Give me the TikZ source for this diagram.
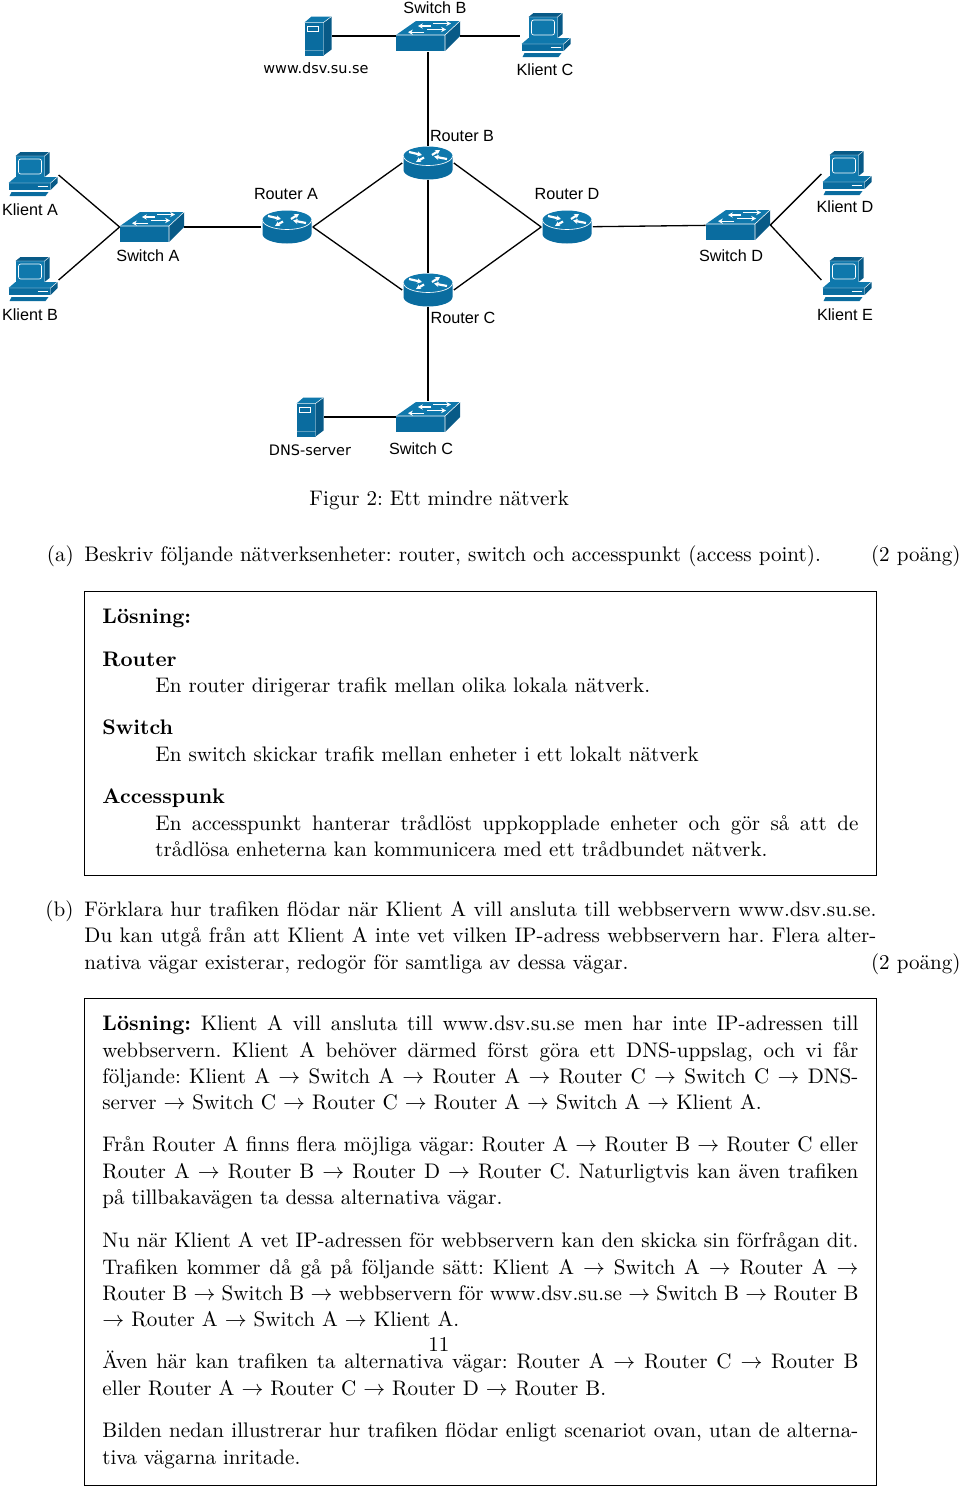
\documentclass[tikz,border=0pt]{standalone}
\usepackage{fontspec}
\usepackage{amsmath, amssymb}
\usepackage{tikz}
\usetikzlibrary{arrows.meta, positioning, calc}
\newfontfamily\labelfont{Liberation Sans}
\newfontfamily\hostfont{DejaVu Sans}
\definecolor{netblue}{HTML}{0A6C9F}
\definecolor{nettop}{HTML}{0F78AC}
\definecolor{netdark}{HTML}{085A87}
\tolerance=9999
\frenchspacing
\renewcommand{\normalsize}{\fontsize{9.62}{12}\selectfont}

\tikzset{
	switchicon/.pic={
		\begin{scope}[shift={(-32,-15)}]
			\fill[netblue] (0,14) rectangle (49,30);
			\fill[nettop] (0,14) -- (20,0) -- (64,0) -- (49,14) -- cycle;
			\fill[netdark] (49,14) -- (64,0) -- (64,15) -- (49,30) -- cycle;
			\draw[white, line width=0.25pt] (0,14) -- (49,14) -- (64,0) (49,14) -- (49,30);
			\draw[tip] (37,2.5) -- (55,2.5);
			\draw[tip] (35,5) -- (22,5);
			\draw[tip] (31,8.5) -- (50,8.5);
			\draw[tip] (28,11.2) -- (12,11.2);
		\end{scope}
	},
	routericon/.pic={
		\fill[netblue] (-24.5,-7) -- (-24.5,7) arc[start angle=180, end angle=0, x radius=24.5, y radius=9.5] -- (24.5,-7) -- cycle;
		\fill[nettop] (0,-7) ellipse[x radius=24.5, y radius=9.5];
		\draw[white, line width=0.3pt] (-24.5,-7) arc[start angle=180, end angle=0, x radius=24.5, y radius=9.5];
		\draw[tip, line width=1pt] (-19,-11) -- (-6,-8);
		\draw[tip, line width=1pt] (19,-4) -- (6,-6.5);
		\draw[tip, line width=1pt] (4,-8) -- (12,-13);
		\draw[tip, line width=1pt] (-4,-5.5) -- (-12,-1);
	},
	pcicon/.pic={
		\begin{scope}[shift={(-24.5,-23)}]
			\fill[netdark] (7,4) -- (12,0) -- (41,0) -- (41,21) -- (36,25) -- cycle;
			\fill[nettop] (7,4) rectangle (36,25);
			\draw[white, line width=0.3pt, rounded corners=1pt] (10,7) rectangle (33,22);
			\draw[white, line width=0.2pt] (7,4) -- (36,4) -- (41,0) (36,4) -- (36,25);
			\fill[nettop] (0,31) -- (7,25) -- (49,25) -- (42,31) -- cycle;
			\fill[netblue] (0,31) rectangle (42,38);
			\fill[netdark] (42,31) -- (49,25) -- (49,31) -- (42,38) -- cycle;
			\draw[white, line width=0.2pt] (0,31) -- (42,31) -- (49,25) (42,31) -- (42,38);
			\draw[white, line width=0.4pt] (29,34) -- (39,34);
			\fill[netblue] (3,40) -- (40,40) -- (37,44) -- (1,44) -- cycle;
		\end{scope}
	},
	servericon/.pic={
		\begin{scope}[shift={(-13.5,-19.5)}]
			\fill[netblue] (0,6) rectangle (19,39);
			\fill[nettop] (0,6) -- (7,0) -- (27,0) -- (19,6) -- cycle;
			\fill[netdark] (19,6) -- (27,0) -- (27,33) -- (19,39) -- cycle;
			\draw[white, line width=0.2pt] (0,6) -- (19,6) -- (27,0) (19,6) -- (19,39) (0,34) -- (19,34);
			\draw[white, line width=0.3pt] (3,10) rectangle (14,15);
		\end{scope}
	}
}

\begin{document}
\normalsize
\begin{tikzpicture}[
		x=0.4566pt, y=-0.4566pt,
		tip/.style={white, line width=0.5pt, -{Stealth[length=2.2pt, width=2.4pt]}},
		link/.style={draw, black, line width=0.6pt},
		swnode/.style={inner sep=0, minimum width=29.2pt, minimum height=14pt},
		rtnode/.style={inner sep=0, minimum width=23.2pt, minimum height=15pt},
		pcnode/.style={inner sep=0, minimum width=23pt, minimum height=20pt},
		srvnode/.style={inner sep=0, minimum width=12.6pt, minimum height=18pt},
		netlabel/.style={inner sep=0, font=\labelfont\fontsize{7.4}{9}\selectfont},
		hostlabel/.style={inner sep=0, font=\hostfont\fontsize{6.6}{8}\selectfont},
		line/.style={inner sep=0, anchor=base west},
		para/.style={inner sep=0, anchor=north west, align=justify, execute at begin node=\strut},
		frame/.style={draw, line width=0.4pt, inner sep=0, anchor=north west, minimum width=361.6pt}
		]
		\useasboundingbox (0,0) rectangle (960,1488);

		% Devices
		\path (428,36) node[swnode] (swb) {} pic {switchicon};
		\path (318,36) node[srvnode] (web) {} pic {servericon};
		\path (546,36) node[pcnode] (klc) {} pic {pcicon};
		\path (428,163) node[rtnode] (rtb) {} pic {routericon};
		\path (428,290) node[rtnode] (rtc) {} pic {routericon};
		\path (287,227) node[rtnode] (rta) {} pic {routericon};
		\path (567,227) node[rtnode] (rtd) {} pic {routericon};
		\path (152,227) node[swnode] (swa) {} pic {switchicon};
		\path (738,225) node[swnode] (swd) {} pic {switchicon};
		\path (33,175) node[pcnode] (kla) {} pic {pcicon};
		\path (33,280) node[pcnode] (klb) {} pic {pcicon};
		\path (847,174) node[pcnode] (kld) {} pic {pcicon};
		\path (847,280) node[pcnode] (kle) {} pic {pcicon};
		\path (428,417) node[swnode] (swc) {} pic {switchicon};
		\path (310,417) node[srvnode] (dns) {} pic {servericon};

		% Device labels
		\node[netlabel] (lswb) at (435,8) {Switch B};
		\node[hostlabel] (lweb) at (316,68) {www.dsv.su.se};
		\node[netlabel] (lklc) at (545,70) {Klient C};
		\node[netlabel] (lrtb) at (462,136) {Router B};
		\node[netlabel] (lrta) at (286,194) {Router A};
		\node[netlabel] (lrtd) at (567,194) {Router D};
		\node[netlabel] (lkla) at (30,210) {Klient A};
		\node[netlabel] (lklb) at (30,315) {Klient B};
		\node[netlabel] (lswa) at (148,256) {Switch A};
		\node[netlabel] (lswd) at (731,256) {Switch D};
		\node[netlabel] (lkld) at (845,207) {Klient D};
		\node[netlabel] (lkle) at (845,315) {Klient E};
		\node[netlabel] (lrtc) at (463,318) {Router C};
		\node[hostlabel] (ldns) at (310,450) {DNS-server};
		\node[netlabel] (lswc) at (421,449) {Switch C};

		% Links
		\draw[link] (web) -- (swb);
		\draw[link] (swb) -- (klc);
		\draw[link] (swb) -- (rtb);
		\draw[link] (rtb) -- (rtc);
		\draw[link] (rtc) -- (swc);
		\draw[link] (dns) -- (swc);
		\draw[link] (kla.east) -- (swa.west);
		\draw[link] (klb.east) -- (swa.west);
		\draw[link] (swa) -- (rta);
		\draw[link] (rta.east) -- (rtb.west);
		\draw[link] (rta.east) -- (rtc.west);
		\draw[link] (rtb.east) -- (rtd.west);
		\draw[link] (rtc.east) -- (rtd.west);
		\draw[link] (rtd) -- (swd);
		\draw[link] (swd.east) -- (kld.west);
		\draw[link] (swd.east) -- (kle.west);

		% Caption and question a
		\node[line] (caption) at (309,505) {Figur 2: Ett mindre nätverk};
		\node[line] (qamark) at (46.5,561) {(a)};
		\node[line] (qa) at (84,561) {Beskriv följande nätverksenheter: router, switch och accesspunkt (access point).};
		\node[line, anchor=base east] (qapts) at (961,561) {(2 poäng)};

		% First answer
		\node[frame, minimum height=129.7pt] (boxa) at (84,591) {};
		\node[line, font=\bfseries] (sola) at (102,623) {Lösning:};
		\node[line, font=\bfseries] (trouter) at (102,666) {Router};
		\node[line] (drouter) at (155,692) {En router dirigerar trafik mellan olika lokala nätverk.};
		\node[line, font=\bfseries] (tswitch) at (102,734.5) {Switch};
		\node[line] (dswitch) at (155,761) {En switch skickar trafik mellan enheter i ett lokalt nätverk};
		\node[line, font=\bfseries] (tap) at (102,803.5) {Accesspunk};
		\node[para, text width=321pt] (dap) at (155,811.6) {En accesspunkt hanterar trådlöst uppkopplade enheter och gör så att de\linebreak trådlösa enheterna kan kommunicera med ett trådbundet nätverk.};

		% Question b
		\node[line] (qbmark) at (45,916) {(b)};
		\node[para, text width=361.6pt] (qb) at (84,897.6) {Förklara hur trafiken flödar när Klient A vill ansluta till webbservern www.dsv.su.se.\linebreak Du kan utgå från att Klient A inte vet vilken IP-adress webbservern har. Flera alter-\linebreak nativa vägar existerar, redogör för samtliga av dessa vägar.};
		\node[line, anchor=base east] (qbpts) at (961,969) {(2 poäng)};

		% Second answer
		\node[frame, minimum height=222.4pt] (boxb) at (84,998) {};
		\node[para, text width=345.2pt] (solb) at (102,1012) {\textbf{Lösning:} Klient A vill ansluta till www.dsv.su.se men har inte IP-adressen till\linebreak webbservern. Klient A behöver därmed först göra ett DNS-uppslag, och vi får\linebreak följande: Klient A $\rightarrow$ Switch A $\rightarrow$ Router A $\rightarrow$ Router C $\rightarrow$ Switch C $\rightarrow$ DNS-\linebreak server $\rightarrow$ Switch C $\rightarrow$ Router C $\rightarrow$ Router A $\rightarrow$ Switch A $\rightarrow$ Klient A.};
		\node[para, text width=345.2pt] (solc) at (102,1133) {Från Router A finns flera möjliga vägar: Router A $\rightarrow$ Router B $\rightarrow$ Router C eller\linebreak Router A $\rightarrow$ Router B $\rightarrow$ Router D $\rightarrow$ Router C. Naturligtvis kan även trafiken\linebreak på tillbakavägen ta dessa alternativa vägar.};
		\node[para, text width=345.2pt] (sold) at (102,1229) {Nu när Klient A vet IP-adressen för webbservern kan den skicka sin förfrågan dit.\linebreak Trafiken kommer då gå på följande sätt: Klient A $\rightarrow$ Switch A $\rightarrow$ Router A $\rightarrow$\linebreak Router B $\rightarrow$ Switch B $\rightarrow$ webbservern för www.dsv.su.se $\rightarrow$ Switch B $\rightarrow$ Router B\linebreak $\rightarrow$ Router A $\rightarrow$ Switch A $\rightarrow$ Klient A.};
		\node[para, text width=345.2pt] (sole) at (102,1350) {Även här kan trafiken ta alternativa vägar: Router A $\rightarrow$ Router C $\rightarrow$ Router B\linebreak eller Router A $\rightarrow$ Router C $\rightarrow$ Router D $\rightarrow$ Router B.};
		\node[para, text width=345.2pt] (solf) at (102,1419) {Bilden nedan illustrerar hur trafiken flödar enligt scenariot ovan, utan de alterna-\linebreak tiva vägarna inritade.};
		\node[line] (pageno) at (428,1351) {11};
	\end{tikzpicture}
\end{document}
